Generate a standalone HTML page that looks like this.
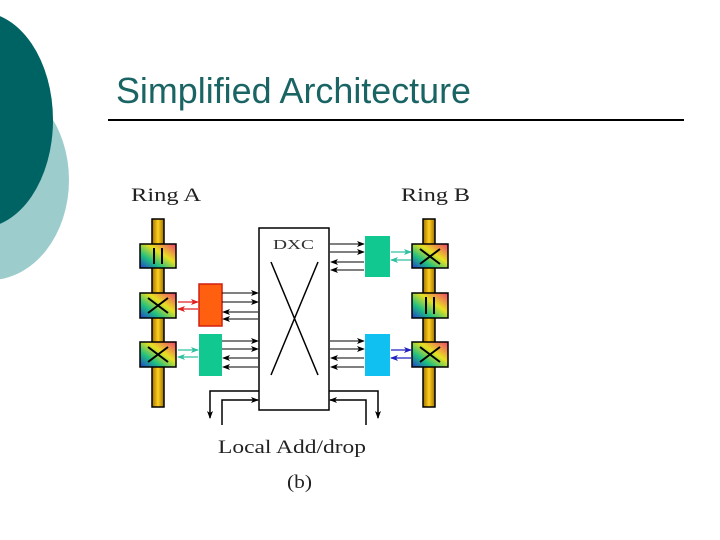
<!DOCTYPE html>
<html><head><meta charset="utf-8"><style>
html,body{margin:0;padding:0;background:#fff;}
svg{display:block;}
</style></head><body>
<svg width="720" height="540" viewBox="0 0 720 540" xmlns="http://www.w3.org/2000/svg">
<defs>
<linearGradient id="g" x1="0" y1="1" x2="1" y2="0">
<stop offset="0" stop-color="#2040d0"/>
<stop offset="0.3" stop-color="#20c080"/>
<stop offset="0.6" stop-color="#e8e020"/>
<stop offset="1" stop-color="#f04070"/>
</linearGradient>
<linearGradient id="rail" x1="0" x2="1">
<stop offset="0" stop-color="#a07000"/><stop offset="0.5" stop-color="#ffd020"/><stop offset="1" stop-color="#a07000"/>
</linearGradient>
<marker id="ak" markerWidth="8" markerHeight="6" refX="7" refY="3" orient="auto" markerUnits="userSpaceOnUse"><path d="M0,0 L8,3 L0,6 L2,3z" fill="#000"/></marker>
<marker id="ar" markerWidth="8" markerHeight="6" refX="7" refY="3" orient="auto" markerUnits="userSpaceOnUse"><path d="M0,0 L8,3 L0,6 L2,3z" fill="#e02020"/></marker>
<marker id="at" markerWidth="8" markerHeight="6" refX="7" refY="3" orient="auto" markerUnits="userSpaceOnUse"><path d="M0,0 L8,3 L0,6 L2,3z" fill="#30c0a0"/></marker>
<marker id="ab" markerWidth="8" markerHeight="6" refX="7" refY="3" orient="auto" markerUnits="userSpaceOnUse"><path d="M0,0 L8,3 L0,6 L2,3z" fill="#2020c0"/></marker>
</defs>
<ellipse cx="-10" cy="180" rx="79" ry="100" fill="#9ccccc"/>
<ellipse cx="-20" cy="120" rx="73" ry="108" fill="#006363"/>
<text x="116" y="103" font-family="Liberation Sans, sans-serif" font-size="36" fill="#1a6464" textLength="355" lengthAdjust="spacingAndGlyphs">Simplified Architecture</text>
<line x1="108" y1="120" x2="684" y2="120" stroke="#000" stroke-width="2"/>

<g font-family="Liberation Serif, serif" font-size="19" fill="#222" lengthAdjust="spacingAndGlyphs">
<text x="131" y="201" textLength="70" lengthAdjust="spacingAndGlyphs">Ring A</text>
<text x="401" y="201" textLength="69" lengthAdjust="spacingAndGlyphs">Ring B</text>
<text x="218" y="453" textLength="148" lengthAdjust="spacingAndGlyphs">Local Add/drop</text>
<text x="287" y="488" textLength="25" lengthAdjust="spacingAndGlyphs">(b)</text>
</g>

<rect x="152" y="219" width="12" height="188" fill="url(#rail)" stroke="#000" stroke-width="1.5"/>
<rect x="423" y="219" width="12" height="188" fill="url(#rail)" stroke="#000" stroke-width="1.5"/>

<g stroke="#000" stroke-width="1.5">
<rect x="140" y="244" width="36" height="24" fill="url(#g)"/>
<rect x="140" y="293" width="36" height="25" fill="url(#g)"/>
<rect x="140" y="342" width="36" height="25" fill="url(#g)"/>
<rect x="412" y="244" width="36" height="24" fill="url(#g)"/>
<rect x="412" y="293" width="36" height="25" fill="url(#g)"/>
<rect x="412" y="342" width="36" height="25" fill="url(#g)"/>
</g>
<g stroke="#000" stroke-width="2">
<line x1="154" y1="248" x2="154" y2="264"/><line x1="162" y1="248" x2="162" y2="264"/>
<line x1="426" y1="297" x2="426" y2="314"/><line x1="434" y1="297" x2="434" y2="314"/>
<path d="M148,298 L168,313 M168,298 L148,313"/>
<path d="M148,347 L168,362 M168,347 L148,362"/>
<path d="M420,249 L440,264 M440,249 L420,264"/>
<path d="M420,347 L440,362 M440,347 L420,362"/>
</g>

<rect x="199" y="284" width="23" height="42" fill="#ff6010" stroke="#d02010" stroke-width="1.5"/>
<rect x="199" y="334" width="23" height="42" fill="#10c890"/>
<rect x="365" y="236" width="25" height="41" fill="#10c890"/>
<rect x="365" y="334" width="25" height="42" fill="#10c0f0"/>

<rect x="259" y="228" width="70" height="182" fill="#fff" stroke="#000" stroke-width="1.5"/>
<text x="273" y="249" font-family="Liberation Serif, serif" font-size="14" fill="#333" textLength="41" lengthAdjust="spacingAndGlyphs">DXC</text>
<path d="M271,262 L318,375 M318,262 L271,375" stroke="#000" stroke-width="1.5"/>

<g stroke="#e02020" stroke-width="1.2">
<line x1="178" y1="302" x2="198" y2="302" marker-end="url(#ar)"/>
<line x1="198" y1="309" x2="178" y2="309" marker-end="url(#ar)"/>
</g>
<g stroke="#30c0a0" stroke-width="1.2">
<line x1="178" y1="350" x2="198" y2="350" marker-end="url(#at)"/>
<line x1="198" y1="357" x2="178" y2="357" marker-end="url(#at)"/>
<line x1="391" y1="252" x2="411" y2="252" marker-end="url(#at)"/>
<line x1="411" y1="260" x2="391" y2="260" marker-end="url(#at)"/>
</g>
<g stroke="#2020c0" stroke-width="1.2">
<line x1="391" y1="350" x2="411" y2="350" marker-end="url(#ab)"/>
<line x1="411" y1="358" x2="391" y2="358" marker-end="url(#ab)"/>
</g>

<g stroke="#000" stroke-width="1">
<line x1="222" y1="293" x2="258" y2="293" marker-end="url(#ak)"/>
<line x1="222" y1="302" x2="258" y2="302" marker-end="url(#ak)"/>
<line x1="258" y1="312" x2="223" y2="312" marker-end="url(#ak)"/>
<line x1="258" y1="319" x2="223" y2="319" marker-end="url(#ak)"/>
<line x1="222" y1="341" x2="258" y2="341" marker-end="url(#ak)"/>
<line x1="222" y1="349" x2="258" y2="349" marker-end="url(#ak)"/>
<line x1="258" y1="358" x2="223" y2="358" marker-end="url(#ak)"/>
<line x1="258" y1="367" x2="223" y2="367" marker-end="url(#ak)"/>
<line x1="330" y1="244" x2="364" y2="244" marker-end="url(#ak)"/>
<line x1="330" y1="252" x2="364" y2="252" marker-end="url(#ak)"/>
<line x1="364" y1="262" x2="331" y2="262" marker-end="url(#ak)"/>
<line x1="364" y1="270" x2="331" y2="270" marker-end="url(#ak)"/>
<line x1="330" y1="341" x2="364" y2="341" marker-end="url(#ak)"/>
<line x1="330" y1="349" x2="364" y2="349" marker-end="url(#ak)"/>
<line x1="364" y1="358" x2="331" y2="358" marker-end="url(#ak)"/>
<line x1="364" y1="367" x2="331" y2="367" marker-end="url(#ak)"/>
</g>
<g stroke="#000" stroke-width="1.5" fill="none">
<path d="M259,391 L210,391 L210,418" marker-end="url(#ak)"/>
<path d="M222,425 L222,400 L258,400" marker-end="url(#ak)"/>
<path d="M329,391 L378,391 L378,418" marker-end="url(#ak)"/>
<path d="M366,425 L366,400 L330,400" marker-end="url(#ak)"/>
</g>
</svg>
</body></html>
